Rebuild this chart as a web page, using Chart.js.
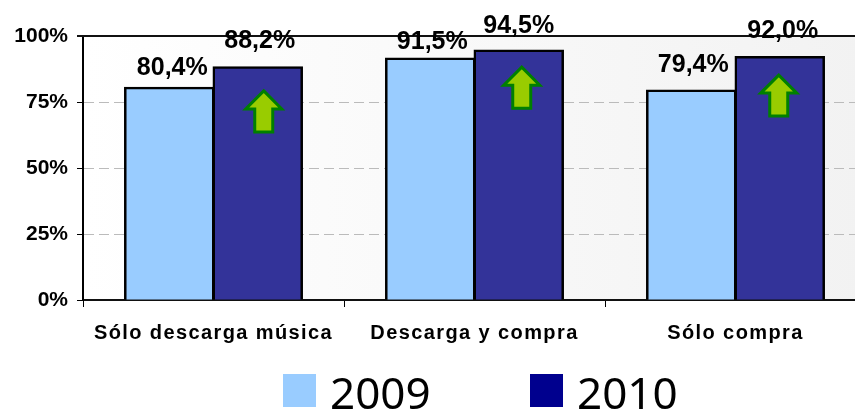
<!DOCTYPE html>
<html>
<head>
<meta charset="utf-8">
<script src="https://cdn.jsdelivr.net/npm/chart.js@4"></script>
<style>
    html, body { margin: 0; padding: 0; background: #fff; }
    #wrap { position: relative; width: 855px; height: 412px; overflow: hidden; }
    #legend span { position: absolute; font: 44px "Noto Sans", sans-serif; line-height: 44px; top: 370px; color: #000; }
    #legend i { position: absolute; width: 33px; height: 33px; top: 374px; }
</style>
</head>
<body>
<div id="wrap">
    <canvas id="chart" width="880" height="412"></canvas>
    <div id="legend"></div>
</div>
<script>
const categories = ['Sólo descarga música', 'Descarga y compra', 'Sólo compra'];
const seriesNames = ['2009', '2010'];
const values2009 = [80.4, 91.5, 79.4];
const values2010 = [88.2, 94.5, 92.0];
const arrowTips = [79.2, 88.2, 85.2];
const yTicks = [0, 25, 50, 75, 100];

// how far each value label sits above its bar, the original is uneven
const labelLift = [[13, 9, 18], [19, 18, 19]];
const labelNudge = [[3, 2, 2], [2, 0, 3]];
const arrowNudge = [6, 3, -1];

const backgroundPlugin = {
    id: 'plotBackground',
    beforeDatasetsDraw(chart) {
        const a = chart.chartArea;
        const ctx = chart.ctx;
        ctx.save();
        ctx.strokeStyle = '#111';
        ctx.lineWidth = 2;
        ctx.beginPath();
        ctx.moveTo(a.left - 6, a.top);
        ctx.lineTo(a.right, a.top);
        ctx.stroke();
        ctx.restore();
    },
    beforeDraw(chart) {
        const a = chart.chartArea;
        const ctx = chart.ctx;
        const gradient = ctx.createLinearGradient(a.left, 0, a.right, 0);
        gradient.addColorStop(0, '#ffffff');
        gradient.addColorStop(1, '#f2f2f2');
        ctx.save();
        ctx.fillStyle = gradient;
        ctx.fillRect(a.left, a.top, a.right - a.left, a.bottom - a.top);
        ctx.restore();
    }
};

const arrowPlugin = {
    id: 'arrows',
    afterDatasetsDraw(chart) {
        const ctx = chart.ctx;
        const bars = chart.getDatasetMeta(1).data;
        ctx.save();
        ctx.fillStyle = '#99cc00';
        ctx.strokeStyle = '#008000';
        ctx.lineWidth = 3;
        arrowTips.forEach(function (tip, i) {
            const x = bars[i].x + arrowNudge[i];
            const y = chart.scales.y.getPixelForValue(tip);
            ctx.beginPath();
            ctx.moveTo(x, y);
            ctx.lineTo(x + 18, y + 18);
            ctx.lineTo(x + 9, y + 18);
            ctx.lineTo(x + 9, y + 41);
            ctx.lineTo(x - 9, y + 41);
            ctx.lineTo(x - 9, y + 18);
            ctx.lineTo(x - 18, y + 18);
            ctx.closePath();
            ctx.fill();
            ctx.stroke();
        });
        ctx.restore();
        // category labels are drawn next (z: 1), the original has them spaced out
        ctx.letterSpacing = '1.4px';
    }
};

const valueLabelPlugin = {
    id: 'valueLabels',
    afterDraw(chart) {
        const ctx = chart.ctx;
        ctx.letterSpacing = '0px';
        ctx.save();
        ctx.font = 'bold 25px "Liberation Sans", Arial, sans-serif';
        ctx.fillStyle = '#000';
        ctx.textAlign = 'center';
        ctx.textBaseline = 'alphabetic';
        chart.data.datasets.forEach(function (dataset, d) {
            chart.getDatasetMeta(d).data.forEach(function (bar, i) {
                const text = dataset.data[i].toFixed(1).replace('.', ',') + '%';
                ctx.fillText(text, bar.x + labelNudge[d][i], bar.y - labelLift[d][i]);
            });
        });
        ctx.restore();
    }
};

const chart = new Chart(document.getElementById('chart').getContext('2d'), {
    type: 'bar',
    data: {
        labels: categories,
        datasets: [
            { label: seriesNames[0], data: values2009, backgroundColor: '#99ccff', borderColor: '#000', borderWidth: 2.5, inflateAmount: 1 },
            { label: seriesNames[1], data: values2010, backgroundColor: '#333399', borderColor: '#000', borderWidth: 2.5, inflateAmount: 1 }
        ]
    },
    options: {
        responsive: false,
        animation: false,
        layout: { padding: { top: 36, right: 14, bottom: 52, left: 0 } },
        datasets: { bar: { categoryPercentage: 0.678, barPercentage: 1 } },
        plugins: {
            legend: { display: false },
            tooltip: { enabled: false }
        },
        scales: {
            x: {
                afterFit(scale) { scale.height = 60; },
                grid: { offset: true, drawOnChartArea: false, tickLength: 7, tickColor: '#000' },
                border: { color: '#111', width: 2 },
                ticks: {
                    color: '#000',
                    padding: 14,
                    z: 1,
                    maxRotation: 0,
                    autoSkip: false,
                    font: { family: '"Liberation Sans", Arial, sans-serif', size: 20, weight: 'bold' }
                }
            },
            y: {
                min: 0,
                max: 100,
                afterFit(scale) { scale.width = 83; },
                afterBuildTicks(scale) { scale.ticks = yTicks.map(function (v) { return { value: v }; }); },
                grid: {
                    color(ctx) { return (ctx.tick.value === 0 || ctx.tick.value === 100) ? 'rgba(0,0,0,0)' : '#bbbbbb'; },
                    tickColor: '#000',
                    tickLength: 6,
                    lineWidth: 1
                },
                border: { color: '#000', width: 2, dash: [10, 5] },
                ticks: {
                    color: '#000',
                    padding: 9,
                    callback(v) { return v + '%'; },
                    font: { family: '"Liberation Sans", Arial, sans-serif', size: 21, weight: 'bold' }
                }
            }
        }
    },
    plugins: [backgroundPlugin, arrowPlugin, valueLabelPlugin]
});

// legend keeps its own swatch colours, the 2010 one is darker than the bars
const legendColors = ['#99ccff', '#00008e'];
const legendBox = [283, 530];
const legendEl = document.getElementById('legend');
chart.data.datasets.forEach(function (dataset, i) {
    const box = document.createElement('i');
    box.style.left = legendBox[i] + 'px';
    box.style.background = legendColors[i];
    const text = document.createElement('span');
    text.style.left = (legendBox[i] + 47) + 'px';
    text.textContent = dataset.label;
    legendEl.appendChild(box);
    legendEl.appendChild(text);
});
</script>
</body>
</html>
